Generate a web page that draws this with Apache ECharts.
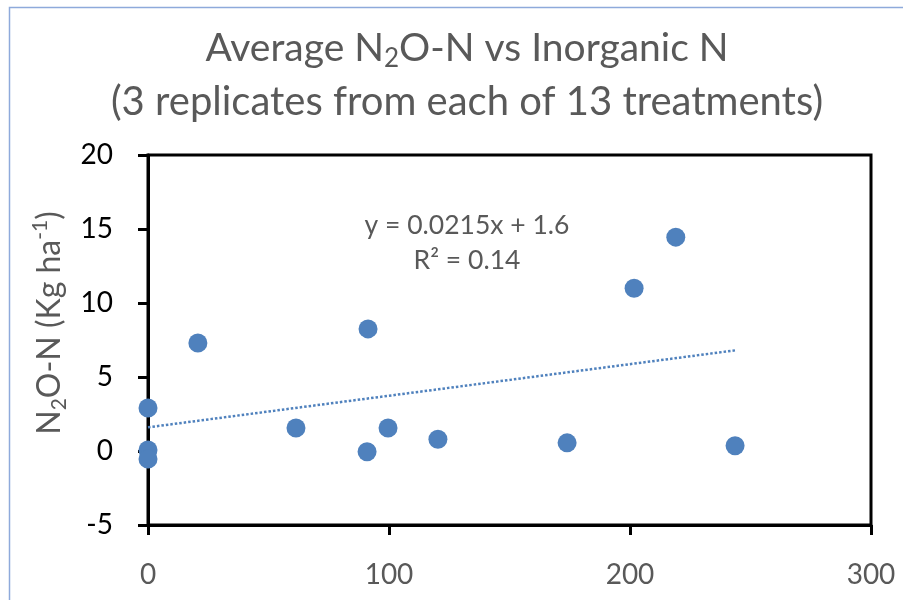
<!DOCTYPE html>
<html>
<head>
<meta charset="utf-8">
<script src="https://cdn.jsdelivr.net/npm/echarts@6/dist/echarts.min.js"></script>
<style>html,body{margin:0;padding:0;background:#fff;}#c{width:903px;height:600px;}</style>
</head>
<body>
<div id="c"></div>
<script>
// Data
const inorganicN = [0, 0, 0, 20.7, 61.4, 91.3, 90.9, 99.6, 120.3, 173.9, 201.7, 219.0, 243.6];
const n2oN = [2.9, 0.07, -0.54, 7.3, 1.55, 8.25, -0.05, 1.55, 0.8, 0.55, 11.0, 14.45, 0.35];
const trendX = [0, 243.6];
const trendY = [1.6, 6.8];
const xTicks = [0, 100, 200, 300];
const yTicks = [-5, 0, 5, 10, 15, 20];
const titleLine1 = 'Average N{s|2}O-N vs Inorganic N';
const titleLine2 = '(3 replicates from each of 13 treatments)';
const eqLine1 = 'y = 0.0215x + 1.6';
const eqLine2 = 'R² = 0.14';

const FONT = 'Lato';
const GRAY = '#595959';
const BLUE = '#4F81BD';

const chart = echarts.init(document.getElementById('c'), null, {renderer: 'canvas'});
chart.setOption({
  animation: false,
  backgroundColor: '#fff',
  textStyle: {fontFamily: FONT},
  title: [
    {
      text: titleLine1, left: 462, top: 19, textAlign: 'center',
      textStyle: {
        fontFamily: FONT, fontWeight: 'normal', color: GRAY, fontSize: 39, lineHeight: 48,
        rich: {s: {fontFamily: FONT, fontSize: 26, color: GRAY, lineHeight: 18, verticalAlign: 'bottom'}}
      }
    },
    {
      text: titleLine2, left: 462, top: 73, textAlign: 'center',
      textStyle: {fontFamily: FONT, fontWeight: 'normal', color: GRAY, fontSize: 40, lineHeight: 48}
    }
  ],
  grid: {
    left: 148, top: 155, width: 723, height: 370,
    show: true, borderColor: '#000', borderWidth: 3, backgroundColor: 'transparent'
  },
  xAxis: {
    type: 'value', min: xTicks[0], max: xTicks[xTicks.length - 1], interval: 100,
    axisLine: {show: true, onZero: false, lineStyle: {color: '#000', width: 3}},
    axisTick: {show: true, inside: false, length: 10, lineStyle: {color: '#000', width: 3}},
    splitLine: {show: false},
    axisLabel: {color: GRAY, fontSize: 28, fontFamily: FONT, margin: 36}
  },
  yAxis: {
    type: 'value', min: yTicks[0], max: yTicks[yTicks.length - 1], interval: 5,
    axisLine: {show: true, onZero: false, lineStyle: {color: '#000', width: 3}},
    axisTick: {show: true, inside: false, length: 10, lineStyle: {color: '#000', width: 3}},
    splitLine: {show: false},
    axisLabel: {color: '#000', fontSize: 28, fontFamily: FONT, margin: 35},
    name: 'N{s|2}O-N (Kg ha{p|-1})',
    nameLocation: 'middle', nameRotate: 90, nameGap: 78,
    nameTextStyle: {
      color: GRAY, fontSize: 32, fontFamily: FONT, lineHeight: 40, padding: [0, 0, 0, 34],
      rich: {
        s: {color: GRAY, fontSize: 21, fontFamily: FONT, lineHeight: 15, verticalAlign: 'bottom'},
        p: {color: GRAY, fontSize: 21, fontFamily: FONT, lineHeight: 15, verticalAlign: 'top'}
      }
    }
  },
  series: [
    {
      type: 'line', data: trendX.map((x, i) => [x, trendY[i]]),
      symbol: 'none', silent: true, z: 1,
      lineStyle: {color: BLUE, width: 2.5, type: [2.5, 2]}
    },
    {
      type: 'scatter', clip: false, z: 5,
      data: inorganicN.map((x, i) => [x, n2oN[i]]),
      symbol: 'circle', symbolSize: 19,
      itemStyle: {color: BLUE, opacity: 1}
    }
  ],
  graphic: [
    {type: 'rect', silent: true, z: -1, shape: {x: 9.5, y: 7.5, width: 1000, height: 1000},
     style: {fill: 'none', stroke: '#8EAADB', lineWidth: 1.5}},
    {type: 'text', silent: true, x: 467, y: 225,
     style: {text: eqLine1, x: 0, y: 0, align: 'center', verticalAlign: 'middle', fill: GRAY, fontSize: 26.5, fontFamily: FONT}},
    {type: 'text', silent: true, x: 467, y: 260,
     style: {text: eqLine2, x: 0, y: 0, align: 'center', verticalAlign: 'middle', fill: GRAY, fontSize: 26.5, fontFamily: FONT}}
  ]
});
</script>
</body>
</html>
